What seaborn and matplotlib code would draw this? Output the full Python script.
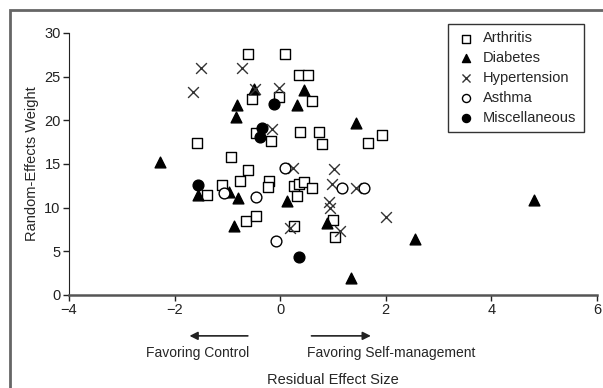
import pandas as pd
import matplotlib.pyplot as plt
import matplotlib.patches as mpatches
import seaborn as sns

# residual effect size (x) and random-effects weight (y) per study group
arthritis_x = [-0.61, 0.10, 0.35, 0.52, -0.53, -0.02, 0.60, -1.58, -0.46, -0.17, 0.37, 0.73,
               0.80, 1.67, 1.92, -0.94, -0.60, -0.77, -1.10, -1.39, -0.65, -0.46, -0.22, -0.24,
               0.26, 0.36, 0.45, 0.60, 0.31, 1.00, 0.26, 1.03]
arthritis_y = [27.6, 27.6, 25.2, 25.2, 22.4, 22.7, 22.2, 17.4, 18.6, 17.6, 18.7, 18.7,
               17.3, 17.4, 18.3, 15.8, 14.3, 13.0, 12.6, 11.5, 8.5, 9.0, 13.0, 12.4,
               12.5, 12.7, 12.9, 12.3, 11.3, 8.6, 7.9, 6.6]

diabetes_x = [-0.50, -0.82, -0.83, 0.45, 0.32, 1.43, -2.27, -1.56, -0.97, -0.80, -0.87, 0.13,
              0.89, 1.34, 2.55, 4.81]
diabetes_y = [23.6, 21.7, 20.4, 23.5, 21.7, 19.7, 15.2, 11.5, 11.8, 11.1, 7.9, 10.8,
              8.3, 1.9, 6.4, 10.9]

hypertension_x = [-1.50, -0.72, -1.65, -0.48, -0.02, -0.16, 0.24, 1.02, 0.99, 1.43, 0.93, 0.94,
                  2.01, 0.18, 1.13]
hypertension_y = [26.0, 26.0, 23.2, 23.6, 23.7, 19.0, 14.5, 14.4, 12.7, 12.3, 10.7, 10.0,
                  8.9, 7.7, 7.3]

asthma_x = [0.10, 1.17, 1.59, -1.07, -0.45, -0.07]
asthma_y = [14.5, 12.3, 12.3, 11.7, 11.2, 6.2]

misc_x = [-0.12, -0.35, -0.38, -1.56, 0.35]
misc_y = [21.9, 19.1, 18.1, 12.6, 4.4]

groups = ['Arthritis', 'Diabetes', 'Hypertension', 'Asthma', 'Miscellaneous']

df = pd.concat([
    pd.DataFrame({'x': arthritis_x, 'y': arthritis_y, 'group': 'Arthritis'}),
    pd.DataFrame({'x': diabetes_x, 'y': diabetes_y, 'group': 'Diabetes'}),
    pd.DataFrame({'x': hypertension_x, 'y': hypertension_y, 'group': 'Hypertension'}),
    pd.DataFrame({'x': asthma_x, 'y': asthma_y, 'group': 'Asthma'}),
    pd.DataFrame({'x': misc_x, 'y': misc_y, 'group': 'Miscellaneous'}),
], ignore_index=True)

# marker, face colour, size
styles = {
    'Arthritis': ('s', 'white', 55),
    'Diabetes': ('^', 'black', 60),
    'Hypertension': ('x', 'black', 60),
    'Asthma': ('o', 'white', 60),
    'Miscellaneous': ('o', 'black', 60),
}

sns.set_style('ticks')
plt.rcParams['font.family'] = ['Liberation Sans', 'DejaVu Sans']
plt.rcParams['font.size'] = 10

fig = plt.figure(figsize=(6.03, 3.88), dpi=100)
ax = fig.add_axes([0.1144, 0.2397, 0.8756, 0.6753])

for g in groups:
    m, fc, s = styles[g]
    sub = df[df['group'] == g]
    if m == 'x':
        sns.scatterplot(data=sub, x='x', y='y', ax=ax, marker='x', color='#333333',
                        s=s, linewidth=1.0, label=g)
    else:
        sns.scatterplot(data=sub, x='x', y='y', ax=ax, marker=m, facecolor=fc,
                        edgecolor='black', s=s, linewidth=1.0, label=g)

ax.set_xlim(-4, 6)
ax.set_ylim(0, 30)
ax.set_xticks([-4, -2, 0, 2, 4, 6])
ax.set_yticks([0, 5, 10, 15, 20, 25, 30])
sns.despine(ax=ax)
ax.spines['left'].set_color('#222222')
ax.spines['bottom'].set_color('#555555')
ax.spines['bottom'].set_linewidth(1.8)
ax.tick_params(axis='both', length=4, width=1, colors='#222222', labelsize=10.5, pad=2)

ax.set_xlabel('Residual Effect Size', labelpad=40, fontsize=10.5)
ax.set_ylabel('Random-Effects Weight', fontsize=10.5)

# direction arrows under the x axis
ax.annotate('', xy=(-1.77, -0.156), xytext=(-0.56, -0.156),
            xycoords=('data', 'axes fraction'),
            arrowprops=dict(arrowstyle='-|>', color='#222222', lw=1.2, mutation_scale=12))
ax.annotate('', xy=(1.77, -0.156), xytext=(0.54, -0.156),
            xycoords=('data', 'axes fraction'),
            arrowprops=dict(arrowstyle='-|>', color='#222222', lw=1.2, mutation_scale=12))
ax.text(-1.57, -0.221, 'Favoring Control', transform=ax.get_xaxis_transform(),
        ha='center', va='center', fontsize=10)
ax.text(2.11, -0.221, 'Favoring Self-management', transform=ax.get_xaxis_transform(),
        ha='center', va='center', fontsize=10)

leg = ax.legend(loc='upper right', bbox_to_anchor=(0.975, 1.034), borderaxespad=0,
                frameon=True, fancybox=False, edgecolor='black', fontsize=10.5,
                handletextpad=0.5, labelspacing=0.4, borderpad=0.5, markerscale=0.75,
                handlelength=1.4)
leg.get_frame().set_linewidth(1.0)

# grey frame round the figure, open at right and bottom
fig.patches.append(mpatches.Rectangle((10 / 603, -0.1), 1.2, 1 - 10 / 388 + 0.1,
                                      transform=fig.transFigure, fill=False,
                                      edgecolor='#666666', linewidth=2))

fig.savefig('out.png', dpi=100)
